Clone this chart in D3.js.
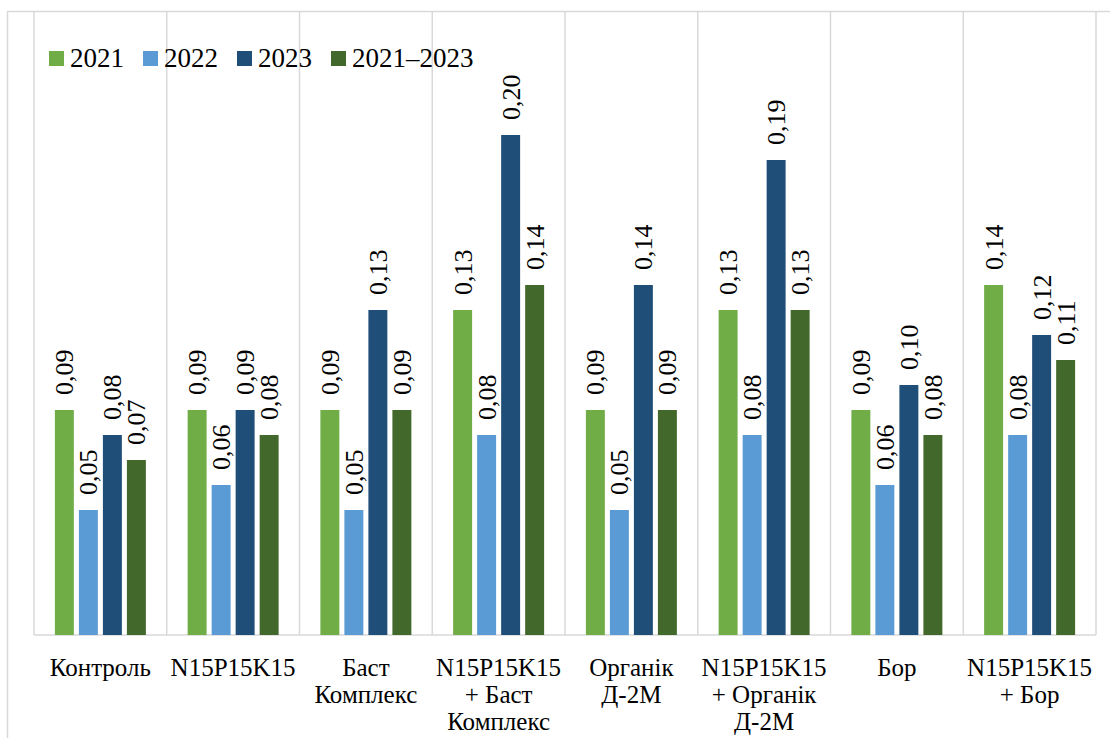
<!DOCTYPE html>
<html>
<head>
<meta charset="utf-8">
<script src="https://cdn.jsdelivr.net/npm/d3@7"></script>
<style>
  body { margin: 0; background: #fff; }
  .warm { position: absolute; left: -9999px; top: 0; font-family: 'Liberation Serif'; font-size: 26px; }
</style>
</head>
<body>
<div class="warm">0,09 2021–2023 Контроль N15P15K15 Баст Комплекс Органік Д-2М Бор</div>
<script>
// data
const categories = [
  ['Контроль'],
  ['N15P15K15'],
  ['Баст', 'Комплекс'],
  ['N15P15K15', '+ Баст', 'Комплекс'],
  ['Органік', 'Д-2М'],
  ['N15P15K15', '+ Органік', 'Д-2М'],
  ['Бор'],
  ['N15P15K15', '+ Бор']
];
const seriesNames = ['2021', '2022', '2023', '2021–2023'];
const v2021 = [0.09, 0.09, 0.09, 0.13, 0.09, 0.13, 0.09, 0.14];
const v2022 = [0.05, 0.06, 0.05, 0.08, 0.05, 0.08, 0.06, 0.08];
const v2023 = [0.08, 0.09, 0.13, 0.20, 0.14, 0.19, 0.10, 0.12];
const vAll  = [0.07, 0.08, 0.09, 0.14, 0.09, 0.13, 0.08, 0.11];
const colors = ['#70AD47', '#5B9BD5', '#1F4E79', '#43682B'];

const values = [v2021, v2022, v2023, vAll];

const FONT = 'Liberation Serif';
const W = 1110, H = 738;
const plot = {left: 34, right: 1096, top: 10, bottom: 635};

function draw() {
  const svg = d3.select('body').append('svg')
    .attr('width', W)
    .attr('height', H)
    .style('display', 'block');

  // outer chart border
  svg.append('rect')
    .attr('x', 7.5).attr('y', 11.5)
    .attr('width', W + 20).attr('height', H + 20)
    .attr('fill', 'none')
    .attr('stroke', '#D9D9D9')
    .attr('stroke-width', 1.5);

  const idx = d3.range(categories.length);

  let x0 = d3.scaleBand()
    .domain(idx)
    .range([plot.left, plot.right])
    .padding(0);

  let x1 = d3.scaleBand()
    .domain(d3.range(seriesNames.length))
    .range([0, x0.bandwidth()])
    .paddingInner(0.21)
    .paddingOuter(0.87);

  let y = d3.scaleLinear()
    .domain([0, 0.25])
    .range([plot.bottom, plot.top]);

  // vertical category separators
  svg.append('g')
    .selectAll('line')
    .data(d3.range(categories.length + 1))
    .enter()
    .append('line')
      .attr('x1', i => i < categories.length ? x0(i) : plot.right)
      .attr('x2', i => i < categories.length ? x0(i) : plot.right)
      .attr('y1', 11.5)
      .attr('y2', plot.bottom)
      .attr('stroke', '#D9D9D9')
      .attr('stroke-width', 1.5);

  // bottom axis line
  svg.append('line')
    .attr('x1', plot.left).attr('x2', plot.right)
    .attr('y1', plot.bottom).attr('y2', plot.bottom)
    .attr('stroke', '#D9D9D9')
    .attr('stroke-width', 1.5);

  // bars
  const groups = svg.append('g')
    .selectAll('g')
    .data(idx)
    .enter()
    .append('g')
      .attr('transform', i => 'translate(' + x0(i) + ',0)');

  groups.selectAll('rect')
    .data(i => values.map((s, k) => ({k: k, v: s[i]})))
    .enter()
    .append('rect')
      .attr('x', d => x1(d.k))
      .attr('y', d => y(d.v))
      .attr('width', x1.bandwidth())
      .attr('height', d => y(0) - y(d.v))
      .attr('fill', d => colors[d.k]);

  // value labels, rotated
  const fmt = v => v.toFixed(2).replace('.', ',');
  groups.selectAll('text')
    .data(i => values.map((s, k) => ({k: k, v: s[i]})))
    .enter()
    .append('text')
      .attr('transform', d => 'translate(' + (x1(d.k) + x1.bandwidth() / 2) + ',' + (y(d.v) - 15) + ') rotate(-90)')
      .attr('dy', '0.35em')
      .attr('font-family', FONT)
      .attr('font-size', 26)
      .attr('fill', '#000')
      .text(d => fmt(d.v));

  // category labels
  const catLabels = svg.append('g')
    .selectAll('text')
    .data(idx)
    .enter()
    .append('text')
      .attr('x', i => x0(i) + x0.bandwidth() / 2)
      .attr('y', 676)
      .attr('text-anchor', 'middle')
      .attr('font-family', FONT)
      .attr('font-size', 25)
      .attr('fill', '#000');

  catLabels.selectAll('tspan')
    .data(i => categories[i].map((t, j) => ({t: t, j: j, i: i})))
    .enter()
    .append('tspan')
      .attr('x', d => x0(d.i) + x0.bandwidth() / 2)
      .attr('y', d => 676 + d.j * 27)
      .text(d => d.t);

  // legend
  const legX = [49, 143, 237, 331];
  const legend = svg.append('g')
    .selectAll('g')
    .data(seriesNames)
    .enter()
    .append('g')
      .attr('transform', (d, i) => 'translate(' + legX[i] + ',51)');

  legend.append('rect')
    .attr('width', 15)
    .attr('height', 15)
    .attr('fill', (d, i) => colors[i]);

  legend.append('text')
    .attr('x', 21)
    .attr('y', 16)
    .attr('font-family', FONT)
    .attr('font-size', 27)
    .attr('fill', '#000')
    .text(d => d);
}

// wait for the serif face before drawing
let drawn = false;
function go() { if (!drawn) { drawn = true; draw(); } }
if (document.fonts && document.fonts.load) {
  document.fonts.load("26px 'Liberation Serif'", '0,09 Контроль').then(go, go);
  setTimeout(go, 1500);
} else {
  go();
}
</script>
</body>
</html>
